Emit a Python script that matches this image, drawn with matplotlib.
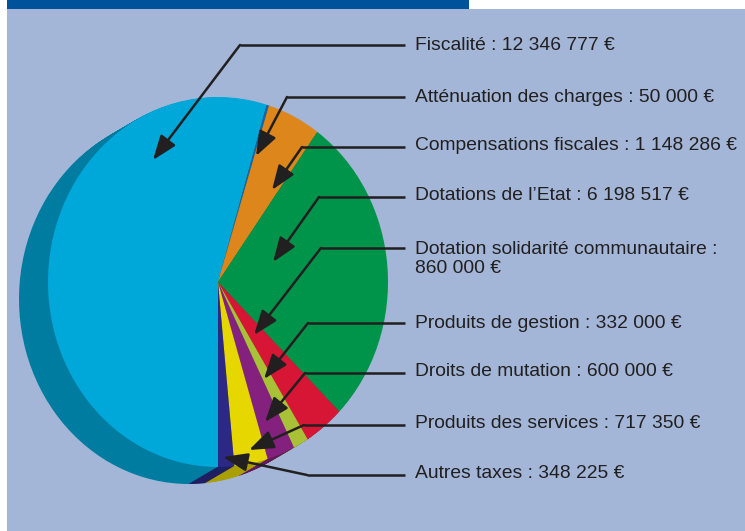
import matplotlib
matplotlib.use('Agg')

import matplotlib.pyplot as plt
from matplotlib.patches import Rectangle
from matplotlib.colors import to_rgb

plt.rcParams['font.family'] = ['Liberation Sans', 'DejaVu Sans']

# ---------------- data ----------------
labels = ["Fiscalité : 12 346 777 €",
          "Atténuation des charges : 50 000 €",
          "Compensations fiscales : 1 148 286 €",
          "Dotations de l\u2019Etat : 6 198 517 €",
          "Dotation solidarité communautaire :\n860 000 €",
          "Produits de gestion : 332 000 €",
          "Droits de mutation : 600 000 €",
          "Produits des services : 717 350 €",
          "Autres taxes : 348 225 €"]
values = [12346777, 50000, 1148286, 6198517, 860000, 332000, 600000, 717350, 348225]
colors = ['#00a7d9', '#1566a8', '#dc861c', '#00944a', '#d71635',
          '#a9c136', '#84217f', '#e6d700', '#2b2985']

# ---------------- layout (pixels) ----------------
W, H = 745, 531
cx, cy = 218, 282          # pie centre
rx, ry = 170, 185          # ellipse radii
depth = (-29, 17)          # extrusion offset
text_x = 415
text_y = [45, 97, 146, 196, 259, 323, 372, 423, 473]
line_y = [45, 97, 147, 197, 248, 323, 373, 425, 475]
elbow_x = [240, 287, 302, 319, 321, 308, 305, 304, 307]
tips = [(153, 160), (256, 156), (272, 190), (273, 262), (254, 335),
        (264, 379), (265, 422), (249, 450), (223, 457)]

bg_col = '#a3b6d7'
bar_col = '#00529a'
ink = '#221f20'

fig = plt.figure(figsize=(W / 100, H / 100), dpi=100)

# background
bg = fig.add_axes([0, 0, 1, 1])
bg.set_xlim(0, W)
bg.set_ylim(H, 0)
bg.axis('off')
bg.add_patch(Rectangle((7, 9), W - 7, H - 9, color=bg_col, lw=0))
bg.add_patch(Rectangle((7, 0), 462, 9, color=bar_col, lw=0))

# pie axes with elliptical scaling
x0, x1, y0, y1 = -1.25, 1.05, -1.15, 1.05
left = cx + x0 * rx
right = cx + x1 * rx
top = cy - y1 * ry
bottom = cy - y0 * ry
ax = fig.add_axes([left / W, 1 - bottom / H, (right - left) / W, (bottom - top) / H])

side_colors = [tuple(c * 0.74 for c in to_rgb(col)) for col in colors]
dx = depth[0] / rx
dy = -depth[1] / ry
n = 30
for i in range(n, 0, -1):
    t = i / n
    ax.pie(values, colors=side_colors, startangle=-90, counterclock=False,
           center=(dx * t, dy * t), radius=1, wedgeprops=dict(linewidth=0))
ax.pie(values, colors=colors, startangle=-90, counterclock=False,
       center=(0, 0), radius=1, wedgeprops=dict(linewidth=0))
ax.set_aspect('auto')
ax.set_xlim(x0, x1)
ax.set_ylim(y0, y1)
ax.axis('off')

# labels and leader arrows
ov = fig.add_axes([0, 0, 1, 1])
ov.set_xlim(0, W)
ov.set_ylim(H, 0)
ov.axis('off')
ov.patch.set_alpha(0)

for lab, ty, ly, ex, tip in zip(labels, text_y, line_y, elbow_x, tips):
    ov.text(text_x, ty, lab, fontsize=13.9, color=ink, va='center', ha='left',
            linespacing=1.12)
    ov.plot([ex, 405], [ly, ly], color=ink, lw=1.8, solid_capstyle='butt')
    ov.annotate('', xy=tip, xytext=(ex, ly),
                arrowprops=dict(arrowstyle='-|>,head_length=0.75,head_width=0.28',
                                lw=1.8, color=ink, shrinkA=0, shrinkB=0,
                                mutation_scale=20))

plt.savefig('out.png', dpi=100)
